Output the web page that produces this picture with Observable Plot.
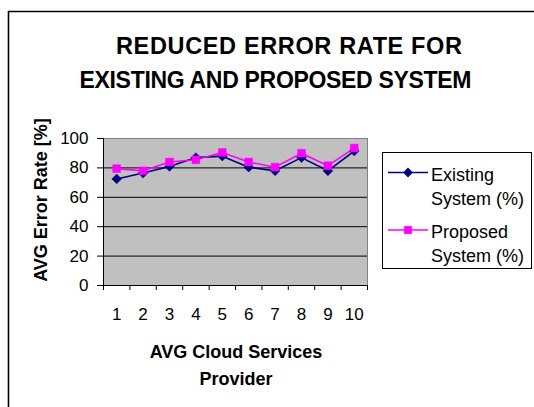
<!DOCTYPE html>
<html>
<head>
<meta charset="utf-8">
<script src="https://cdn.jsdelivr.net/npm/d3@7"></script>
<script src="https://cdn.jsdelivr.net/npm/@observablehq/plot@0.6"></script>
<style>
  html, body { margin: 0; padding: 0; background: #fff; }
  #chart { width: 534px; height: 407px; }
</style>
</head>
<body>
<div id="chart"></div>
<script>
const providers = [1, 2, 3, 4, 5, 6, 7, 8, 9, 10];
const existing = [72.5, 76.5, 81, 87, 88, 80.5, 78, 87, 78, 91.5];
const proposed = [79.5, 78, 84, 85.5, 90.5, 84, 80.5, 90, 81.5, 93.5];
const seriesNames = ["Existing System (%)", "Proposed System (%)"];
const yTicks = [0, 20, 40, 60, 80, 100];
const titleLines = ["REDUCED ERROR RATE FOR", "EXISTING AND PROPOSED SYSTEM"];
const yTitle = "AVG Error Rate [%]";
const xTitleLines = ["AVG Cloud Services", "Provider"];

const colors = ["#000080", "#FF00FF"];
const symbols = ["diamond2", "square"];

const rows = [];
providers.forEach((p, i) => {
  rows.push({provider: p, value: existing[i], series: seriesNames[0]});
});
providers.forEach((p, i) => {
  rows.push({provider: p, value: proposed[i], series: seriesNames[1]});
});
const boundaries = [...providers.map(p => p - 0.5), providers[providers.length - 1] + 0.5];

const font = "'Liberation Sans', Arial, sans-serif";

const svg = Plot.plot({
  width: 534,
  height: 407,
  marginLeft: 103,
  marginRight: 167,
  marginTop: 138,
  marginBottom: 122,
  style: {fontFamily: font, fontSize: "17px", background: "#fff", color: "#000", overflow: "visible"},
  x: {type: "linear", domain: [boundaries[0], boundaries[boundaries.length - 1]]},
  y: {domain: [0, 100]},
  marks: [
    Plot.frame({fill: "#C0C0C0", stroke: "#808080"}),
    Plot.ruleY(yTicks.filter(t => t > 0 && t < 100), {stroke: "#000", strokeWidth: 1}),
    Plot.ruleY([0], {stroke: "#000", strokeWidth: 1}),
    Plot.ruleX([boundaries[0]], {stroke: "#000", strokeWidth: 1}),
    Plot.axisY({ticks: yTicks, tickSize: 6, tickPadding: 9, label: null, fontSize: 17, stroke: "#000"}),
    Plot.axisX({ticks: boundaries, tickSize: 5, tickFormat: () => "", label: null, stroke: "#000"}),
    Plot.axisX({ticks: providers, tickSize: 0, tickPadding: 22, label: null, fontSize: 17}),
    ...seriesNames.map((s, i) => Plot.line(rows.filter(d => d.series === s), {x: "provider", y: "value", stroke: colors[i], strokeWidth: 1.6})),
    ...seriesNames.map((s, i) => Plot.dot(rows.filter(d => d.series === s), {x: "provider", y: "value", fill: colors[i], stroke: colors[i], strokeWidth: 0.5, symbol: symbols[i], r: 4.4}))
  ]
});

document.getElementById("chart").appendChild(svg);

const g = d3.select(svg).append("g").attr("font-family", font);

// outer chart border (top and left visible)
g.append("path").attr("d", "M8,11.5H534M8.5,11V407").attr("stroke", "#000").attr("stroke-width", 1.6).attr("fill", "none");

// title
g.append("text").attr("x", 289).attr("y", 54).attr("text-anchor", "middle").attr("font-weight", "bold").attr("font-size", 23.5)
  .attr("textLength", 346).attr("lengthAdjust", "spacing").text(titleLines[0]);
g.append("text").attr("x", 275.5).attr("y", 88).attr("text-anchor", "middle").attr("font-weight", "bold").attr("font-size", 23)
  .attr("textLength", 392).attr("lengthAdjust", "spacing").text(titleLines[1]);

// y title
g.append("text").attr("transform", "translate(47,200) rotate(-90)").attr("text-anchor", "middle").attr("font-weight", "bold").attr("font-size", 18).text(yTitle);

// x title
g.append("text").attr("x", 236).attr("y", 358).attr("text-anchor", "middle").attr("font-weight", "bold").attr("font-size", 18).text(xTitleLines[0]);
g.append("text").attr("x", 236).attr("y", 385).attr("text-anchor", "middle").attr("font-weight", "bold").attr("font-size", 18).text(xTitleLines[1]);

// legend
const lg = g.append("g");
lg.append("rect").attr("x", 382.5).attr("y", 152.5).attr("width", 149).attr("height", 116).attr("fill", "#fff").attr("stroke", "#000").attr("stroke-width", 1);
const sym = {diamond2: d3.symbolDiamond2, square: d3.symbolSquare};
seriesNames.forEach((s, i) => {
  const cy = 172.5 + i * 57.5;
  lg.append("line").attr("x1", 388).attr("x2", 428).attr("y1", cy).attr("y2", cy).attr("stroke", colors[i]).attr("stroke-width", 1.6);
  lg.append("path").attr("transform", `translate(408,${cy})`).attr("d", d3.symbol(sym[symbols[i]], Math.PI * 4.4 * 4.4)()).attr("fill", colors[i]);
  const words = s.split(" ");
  const l1 = words[0], l2 = words.slice(1).join(" ");
  lg.append("text").attr("x", 431).attr("y", cy + 8).attr("text-anchor", "start").attr("font-size", 18).text(l1);
  lg.append("text").attr("x", 431).attr("y", cy + 32).attr("text-anchor", "start").attr("font-size", 18).text(l2);
});
</script>
</body>
</html>
